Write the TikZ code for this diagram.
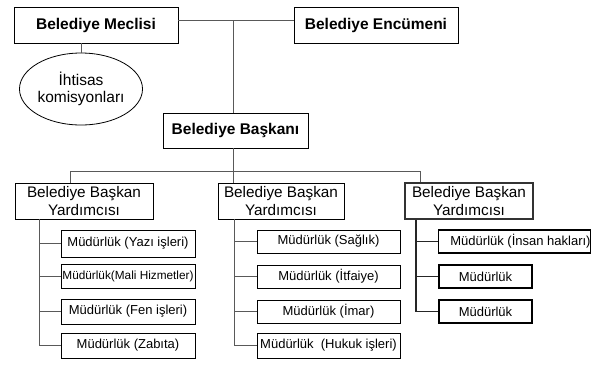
\documentclass[tikz,border=0pt]{standalone}
\usepackage{fontspec}
\setmainfont{Liberation Sans}
\usetikzlibrary{shapes.geometric}
\begin{document}
\begin{tikzpicture}[x=1pt,y=-1pt,
  box/.style={draw=black,line width=0.8pt,inner sep=0pt,align=center},
  topbox/.style={box,font=\fontsize{15.5}{17}\selectfont\bfseries},
  bbybox/.style={box,font=\fontsize{15.3}{17.5}\selectfont,minimum height=36pt},
  mud/.style={box,font=\fontsize{13}{15}\selectfont},
  mudthick/.style={mud,line width=1.6pt},
  conn/.style={draw=black!65,line width=0.8pt},
  connthick/.style={draw=black!85,line width=1.3pt}]
\useasboundingbox (0,0) rectangle (603,376);
% top level
\node[topbox,minimum width=164pt,minimum height=36pt] (meclisi) at (96,25) {Belediye Meclisi};
\node[topbox,minimum width=164pt,minimum height=36pt] (encumeni) at (376,25) {Belediye Encümeni};
\node[draw=black,line width=0.8pt,ellipse,inner sep=0pt,minimum width=118pt,minimum height=72pt,align=center,
  font=\fontsize{15.5}{17}\selectfont] (ihtisas) at (81,89) {İhtisas\\komisyonları};
\node[topbox,minimum width=145pt,minimum height=35pt] (baskan) at (235.5,130.5) {Belediye Başkanı};
% deputies
\node[bbybox,minimum width=138pt] (bby1) at (84,201) {Belediye Başkan\\Yardımcısı};
\node[bbybox,minimum width=126pt] (bby2) at (281,201) {Belediye Başkan\\Yardımcısı};
\node[bbybox,minimum width=128pt,line width=1.5pt,draw=black!80] (bby3) at (469,201) {Belediye Başkan\\Yardımcısı};
% left column
\node[mud,minimum width=134pt,minimum height=27pt] (l1) at (128,243.5) {Müdürlük (Yazı işleri)};
\node[mud,minimum width=134pt,minimum height=24pt,font=\fontsize{11.8}{14}\selectfont] (l2) at (128,276) {Müdürlük(Mali Hizmetler)};
\node[mud,minimum width=134pt,minimum height=25pt] (l3) at (128,311.5) {Müdürlük (Fen işleri)};
\node[mud,minimum width=134pt,minimum height=25pt] (l4) at (128,345.5) {Müdürlük (Zabıta)};
% middle column
\node[mud,minimum width=143pt,minimum height=23pt] (m1) at (328.5,241.5) {Müdürlük (Sağlık)};
\node[mud,minimum width=143pt,minimum height=23pt] (m2) at (328.5,276.5) {Müdürlük (İtfaiye)};
\node[mud,minimum width=143pt,minimum height=23pt] (m3) at (328.5,311.5) {Müdürlük (İmar)};
\node[mud,minimum width=143pt,minimum height=25pt] (m4) at (328.5,345.5) {Müdürlük\ \ (Hukuk işleri)};
% right column
\node[mudthick,minimum width=151pt,minimum height=23pt] (r1) at (514.5,241.5) {\hspace*{12pt}Müdürlük (İnsan hakları)};
\node[mudthick,minimum width=93pt,minimum height=23pt] (r2) at (485.5,276.5) {Müdürlük};
\node[mudthick,minimum width=93pt,minimum height=23pt] (r3) at (485.5,311.5) {Müdürlük};
% junction coordinates
\coordinate (jtop) at (233,20);
\coordinate (jmid) at (233,171);
\coordinate (hl) at (70,171);
\coordinate (hr) at (420,171);
\coordinate (sl) at (39,0);
\coordinate (sm) at (234,0);
\coordinate (sr) at (416,0);
% connectors
\draw[conn] ([yshift=5pt]meclisi.east) -- ([yshift=5pt]encumeni.west);
\draw[conn] (jtop) -- (jtop |- baskan.north);
\draw[conn] (ihtisas.north |- meclisi.south) -- (ihtisas.north);
\draw[conn] (jtop |- baskan.south) -- (jmid);
\draw[conn] (hl |- bby1.north) -- (hl) -- (hr) -- (hr |- bby3.north);
\draw[conn] (jmid) -- (jmid |- bby2.north);
% left spine
\draw[conn] (sl |- bby1.south) -- (sl |- l4.west) -- (l4.west);
\draw[conn] (sl |- l1.west) -- (l1.west);
\draw[conn] (sl |- l2.west) -- (l2.west);
\draw[conn] (sl |- l3.west) -- (l3.west);
% middle spine
\draw[conn] (sm |- bby2.south) -- (sm |- m4.west) -- (m4.west);
\draw[conn] (sm |- m1.west) -- (m1.west);
\draw[conn] (sm |- m2.west) -- (m2.west);
\draw[conn] (sm |- m3.west) -- (m3.west);
% right spine
\draw[connthick] (sr |- bby3.south) -- (sr |- r3.west) -- (r3.west);
\draw[connthick] (sr |- r1.west) -- (r1.west);
\draw[connthick] (sr |- r2.west) -- (r2.west);
\end{tikzpicture}
\end{document}
